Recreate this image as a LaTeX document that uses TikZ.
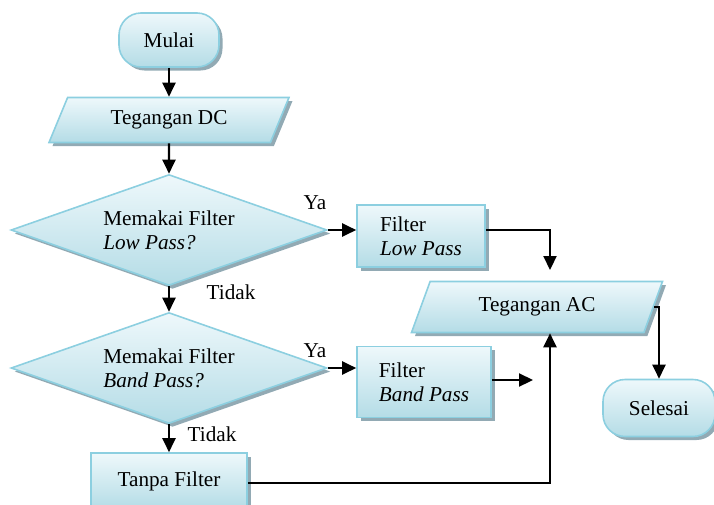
\documentclass[tikz,border=0pt]{standalone}
\usepackage{fontspec}
\setmainfont{Liberation Serif}
\usetikzlibrary{arrows.meta,positioning,shapes.geometric,shadows}
\definecolor{rim}{HTML}{8CCFE0}
\definecolor{filltop}{HTML}{EEF8FB}
\definecolor{fillbot}{HTML}{B4DCE6}
\definecolor{shadowc}{HTML}{92AAB4}

\begin{document}
\begin{tikzpicture}[
  x=1pt, y=-1pt,
  every node/.style={font=\fontsize{21.2}{24}\selectfont},
  base/.style={draw=rim, line width=1.6pt, top color=filltop, bottom color=fillbot,
               drop shadow={shadow xshift=3.5pt, shadow yshift=-3.5pt, fill=shadowc, opacity=1}},
  term/.style={base, rounded corners=22pt, minimum height=54pt},
  io/.style={base, trapezium, trapezium left angle=45, trapezium right angle=135,
             trapezium stretches body, inner sep=0pt},
  dec/.style={base, diamond, aspect=2.85, minimum width=316pt, minimum height=111pt,
              align=left, inner sep=0pt},
  proc/.style={base, rectangle, align=left},
  lbl/.style={inner sep=0pt},
  arr/.style={-{Triangle[length=14pt, width=13pt]}, line width=2.2pt}
]
\clip (0,0) rectangle (714,504);

% main column
\node[term, minimum width=100pt] (start) at (169,40) {Mulai};
\node[io, minimum width=240pt, minimum height=45pt] (dc) at (169,120) {Tegangan DC};
\node[dec] (d1) at (169,230) {Memakai Filter\\\textit{Low Pass?}};
\node[dec] (d2) at (169,368) {Memakai Filter\\\textit{Band Pass?}};
\node[proc, minimum width=156pt, minimum height=56pt] (tf) at (169,481) {Tanpa Filter};

% filters and output
\node[proc, minimum width=128pt, minimum height=62pt] (lp) at (421,236) {Filter\\\textit{Low Pass}};
\node[proc, minimum width=134pt, minimum height=71pt] (bp) at (424,382) {Filter\\\textit{Band Pass}};
\node[io, minimum width=251pt, minimum height=51pt] (ac) at (537,307) {Tegangan AC};
\node[term, minimum width=112pt, minimum height=57pt] (sel) at (659,408) {Selesai};

% labels
\node[lbl] (ya1) at (315,203) {Ya};
\node[lbl] (tidak1) at (231,292) {Tidak};
\node[lbl] (ya2) at (315,351) {Ya};
\node[lbl] (tidak2) at (212,434) {Tidak};

\coordinate (lpdrop) at (550,270);
\coordinate (bpend) at (533,380);
\coordinate (join) at (550,483);

\draw[arr] (start) -- (dc);
\draw[arr] (dc) -- (d1);
\draw[arr] (d1) -- (d2);
\draw[arr] (d2) -- (tf);
\draw[arr] (d1.east) -- (d1.east -| lp.west);
\draw[arr] (d2.east) -- (d2.east -| bp.west);
\draw[arr] (lp.east |- d1.east) -| (lpdrop);
\draw[arr] (bp.east |- bpend) -- (bpend);
\draw[arr] (tf.east |- join) -- (join) -- (join |- ac.south);
\draw[arr] (ac.east) -| (sel);
\end{tikzpicture}
\end{document}
